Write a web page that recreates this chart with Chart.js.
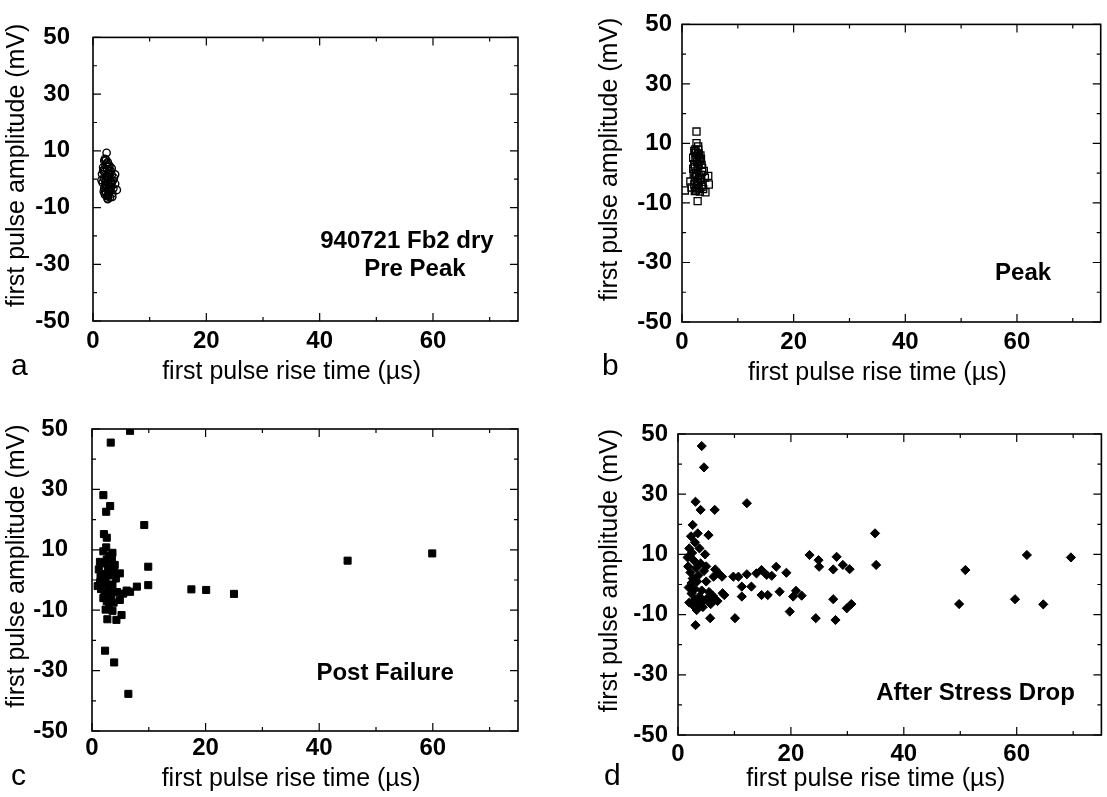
<!DOCTYPE html>
<html>
<head>
<meta charset="utf-8">
<script src="https://cdn.jsdelivr.net/npm/chart.js@4.4.1/dist/chart.umd.min.js"></script>
<style>
  html, body { margin: 0; padding: 0; background: #fff; }
  #wrap { position: relative; width: 1107px; height: 797px; overflow: hidden; background: #fff; }
  #wrap canvas { position: absolute; left: 0; top: 0; }
</style>
</head>
<body>
<div id="wrap">
  <canvas id="pa" width="1107" height="797"></canvas>
  <canvas id="pb" width="1107" height="797"></canvas>
  <canvas id="pc" width="1107" height="797"></canvas>
  <canvas id="pd" width="1107" height="797"></canvas>
</div>
<script>
// Tick labels shown on the axes (ticks every 10, labels every 20)
const labeledX = [0, 20, 40, 60];
const labeledY = [-50, -30, -10, 10, 30, 50];

// (a) Pre Peak: rise time (us) / amplitude (mV)
const preX = [2.4,2.1,2.6,2.2,1.8,2.9,2.5,3.1,2.0,1.6,2.7,3.3,2.3,1.9,2.8,3.5,3.9,2.2,1.7,2.6,3.0,2.4,2.0,3.2,2.7,1.5,2.9,3.6,4.2,3.9,2.3,2.8,2.1,3.4,2.5,1.9,3.0,2.6,2.2,2.7,3.3,2.4,2.0,2.9,3.1,2.5,1.8,2.6,
  2.3,2.7,2.0,3.0,2.4,3.3,2.2,2.9,2.6,3.4,2.1,3.7];
const preY = [9.3,7.2,6.0,5.1,4.2,4.8,3.5,3.0,2.6,1.8,2.2,1.5,1.0,0.4,0.8,-0.5,1.7,-0.8,-1.2,-1.5,-2.0,-2.4,-3.1,-2.8,-3.5,-0.3,-4.0,-3.2,-3.8,-1.6,-4.6,-5.2,-5.4,-5.0,-6.0,-4.3,-6.4,-6.8,-2.0,0.2,3.8,5.5,6.5,2.9,-1.0,1.2,3.0,-7.0,
  6.8,4.4,3.4,1.9,0.0,-1.2,-2.6,-3.6,-5.6,-6.2,-4.8,0.5];

// (b) Peak
const peakX = [2.6,0.5,2.8,4.8,4.2,2.6,4.7,3.8,1.7,2.2,2.5,2.9,3.3,2.0,2.4,2.7,3.1,3.5,2.3,2.8,3.0,3.6,2.1,2.6,3.2,2.4,2.9,3.4,2.2,2.7,3.0,3.7,2.5,2.0,3.3,2.8,4.1,1.5,3.9,2.3,
  2.4,3.0,2.6,3.4,2.2,2.9,3.6,2.5,3.1,2.3,2.8,3.5,2.6,3.2,2.9,2.4];
const peakY = [14.0,-5.8,-9.4,-3.8,-6.4,10.1,-0.9,-5.3,-4.8,7.5,6.8,7.9,6.0,5.2,4.5,3.8,5.0,2.8,2.0,1.2,3.2,0.5,-0.2,-1.0,-1.8,-2.6,-3.0,-2.2,-3.8,-4.4,-5.0,-4.0,-5.8,1.5,4.2,6.2,-1.5,-2.8,0.8,-6.0,
  7.0,6.6,5.6,4.8,3.0,2.4,1.8,0.2,-0.6,-1.4,-3.4,-4.6,-5.2,-6.2,9.0,8.0];

// (c) Post Failure
const failX = [6.7,3.3,2.0,3.2,2.5,9.2,2.1,2.6,4.9,9.9,9.9,7.9,6.1,4.9,17.5,20.1,25.0,2.7,4.3,5.2,2.3,3.9,6.4,45.0,59.9,
  1.2,1.5,2.0,2.5,3.0,3.5,2.2,1.8,2.8,3.8,4.2,2.4,3.0,1.6,2.2,3.4,2.6,3.0,2.4,3.8,4.4,3.6,2.0,2.8,3.2,1.4,4.0,2.6,3.6,6.7,5.5,
  1.0,3.3,2.0,3.6,1.4];
const failY = [49.4,45.5,28.1,24.5,22.6,18.2,15.2,14.0,2.2,4.4,-1.7,-2.2,-3.5,-6.6,-3.1,-3.3,-4.6,-13.0,-13.2,-11.6,-23.4,-27.3,-37.7,6.4,8.8,
  3.5,1.0,9.5,10.8,8.0,6.5,5.5,2.0,4.0,3.0,0.5,-1.0,-2.5,-3.0,-4.5,-5.5,-7.0,-8.5,-9.8,-7.5,-4.0,-1.5,0.0,1.5,-4.0,-0.8,5.0,6.8,9.0,-3.9,-4.5,
  -2.0,2.5,-6.0,-10.2,6.0];

// (d) After Stress Drop
const dropX = [4.2,4.6,3.1,4.0,6.5,12.2,2.6,5.4,3.1,5.7,10.1,19.8,24.4,23.3,24.9,25.0,28.1,27.5,29.2,30.4,34.9,35.1,50.9,61.8,69.6,49.8,59.7,64.7,20.9,20.4,21.9,27.5,27.9,29.9,30.7,
  6.3,7.2,7.8,9.8,10.7,12.2,13.9,14.8,15.7,16.6,17.4,19.2,
  8.2,11.3,11.3,13.0,14.8,15.9,18.0,7.9,6.6,
  2.0,2.5,3.0,3.5,2.8,1.8,2.2,3.2,4.0,4.6,5.0,2.6,3.4,1.9,2.4,3.0,3.8,4.5,5.2,5.8,6.5,2.7,3.3,2.0,4.2,3.6,2.3,4.8,3.8,1.7,4.4,5.5,6.2,7.0,3.0,2.4,3.7,5.0];
const dropY = [46.0,38.9,27.5,24.8,24.8,27.0,19.8,16.4,-13.5,-11.2,-11.2,-9.0,-11.2,9.8,8.1,5.9,9.2,5.0,6.5,5.1,17.0,6.5,4.8,9.8,9.0,-6.5,-4.9,-6.6,-2.1,-4.0,-3.7,-4.9,-11.8,-7.9,-6.5,
  2.6,3.7,2.6,2.6,2.6,3.4,3.7,4.8,3.2,2.9,5.9,3.9,
  -3.5,-0.7,-4.0,-0.7,-3.5,-3.5,-2.4,-2.9,5.0,
  12,10.5,14,17,8,6,4,5.5,7,4.5,6.0,2,1,-1,-3,-5,-4,-5.5,-4.5,-6.5,-5,-7,-8.5,-6,-2,3,16,10,12,9,-7.5,-2.5,-3.8,-5.5,-1.5,0.5,-6.0,1.0];

const FONT = '"Liberation Sans", Arial, Helvetica, sans-serif';
// Axis titles sit a little off-centre along their axes; the padding spaces nudge them.
const X_TITLE = 'first pulse rise time (\u00B5s)    ';
const Y_TITLE = '    first pulse amplitude (mV)';

// Layout of the four panels on the page
const panels = [
  { id: 'pa', xs: preX, ys: preY, pointStyle: 'circle', radius: 3.7, fill: 'rgba(0,0,0,0)', borderWidth: 1.4,
    area: { left: 93, right: 518, top: 16, bottom: 321 }, yBoxLeft: 0, yTickPad: 23, xTickPad: 6, xBoxBottom: 389,
    letter: { text: 'a', x: 11, y: 375 },
    notes: [ { text: '940721 Fb2 dry', x: 55.4, y: -24.4 }, { text: 'Pre Peak', x: 56.8, y: -34.3 } ] },
  { id: 'pb', xs: peakX, ys: peakY, pointStyle: 'rect', radius: 5, fill: 'rgba(0,0,0,0)', borderWidth: 1.3,
    area: { left: 682, right: 1104, top: 19, bottom: 322 }, yBoxLeft: 593, yTickPad: 10, xTickPad: 6, xBoxBottom: 390,
    letter: { text: 'b', x: 602, y: 375 },
    notes: [ { text: 'Peak', x: 61.1, y: -35.8 } ] },
  { id: 'pc', xs: failX, ys: failY, pointStyle: 'rect', radius: 5, fill: '#000', borderWidth: 1,
    area: { left: 92, right: 518, top: 429, bottom: 731 }, yBoxLeft: 0, yTickPad: 24, xTickPad: 3, xBoxBottom: 796,
    letter: { text: 'c', x: 11, y: 785 },
    notes: [ { text: 'Post Failure', x: 51.6, y: -33.1 } ] },
  { id: 'pd', xs: dropX, ys: dropY, pointStyle: 'rectRot', radius: 4.6, fill: '#000', borderWidth: 1,
    area: { left: 678, right: 1102, top: 434, bottom: 735 }, yBoxLeft: 593, yTickPad: 10, xTickPad: 5, xBoxBottom: 796,
    letter: { text: 'd', x: 604, y: 785 },
    notes: [ { text: 'After Stress Drop', x: 52.7, y: -38.4 } ] }
];

// Frame with inward ticks on all four sides, text notes and panel letter
function framePlugin(p) {
  return {
    id: 'frame_' + p.id,
    afterDraw(chart) {
      const { ctx, chartArea: a } = chart;
      const xs = chart.scales.x, ys = chart.scales.y;
      ctx.save();
      ctx.strokeStyle = '#000';
      ctx.lineWidth = 1.6;
      ctx.strokeRect(a.left, a.top, a.right - a.left, a.bottom - a.top);
      ctx.lineWidth = 1.2;
      ctx.beginPath();
      xs.ticks.forEach(t => {
        const px = xs.getPixelForValue(t.value);
        const len = labeledX.includes(t.value) ? 8 : 4;
        ctx.moveTo(px, a.bottom); ctx.lineTo(px, a.bottom - len);
        ctx.moveTo(px, a.top); ctx.lineTo(px, a.top + len);
      });
      ys.ticks.forEach(t => {
        const py = ys.getPixelForValue(t.value);
        const len = labeledY.includes(t.value) ? 8 : 4;
        ctx.moveTo(a.left, py); ctx.lineTo(a.left + len, py);
        ctx.moveTo(a.right, py); ctx.lineTo(a.right - len, py);
      });
      ctx.stroke();

      ctx.fillStyle = '#000';
      ctx.textBaseline = 'alphabetic';
      ctx.textAlign = 'center';
      ctx.font = 'bold 24px ' + FONT;
      p.notes.forEach(n => ctx.fillText(n.text, xs.getPixelForValue(n.x), ys.getPixelForValue(n.y)));

      ctx.textAlign = 'left';
      ctx.font = '30px ' + FONT;
      ctx.fillText(p.letter.text, p.letter.x, p.letter.y);
      ctx.restore();
    }
  };
}

panels.forEach(p => {
  const points = p.xs.map((x, i) => ({ x: x, y: p.ys[i] }));
  new Chart(document.getElementById(p.id), {
    type: 'scatter',
    data: {
      datasets: [{
        data: points,
        pointStyle: p.pointStyle,
        pointRadius: p.radius,
        pointHoverRadius: p.radius,
        backgroundColor: p.fill,
        borderColor: '#000',
        borderWidth: p.borderWidth
      }]
    },
    options: {
      responsive: false,
      animation: false,
      devicePixelRatio: 1,
      events: [],
      layout: {
        padding: {
          left: p.yBoxLeft,
          top: p.area.top,
          right: 1107 - p.area.right,
          bottom: 797 - p.xBoxBottom
        }
      },
      plugins: { legend: { display: false }, tooltip: { enabled: false } },
      scales: {
        x: {
          type: 'linear',
          min: 0, max: 75,
          grid: { display: false, drawTicks: false },
          border: { display: false },
          ticks: {
            stepSize: 10,
            includeBounds: false,
            autoSkip: false,
            maxRotation: 0,
            padding: p.xTickPad,
            color: '#000',
            font: { family: FONT, size: 24, weight: 'bold' },
            callback: v => labeledX.includes(v) ? String(v) : ''
          },
          title: {
            display: true,
            text: X_TITLE,
            color: '#000',
            font: { family: FONT, size: 25 },
            padding: { top: 0, bottom: 2 }
          },
          afterFit: s => { s.height = p.xBoxBottom - p.area.bottom; }
        },
        y: {
          type: 'linear',
          min: -50, max: 50,
          grid: { display: false, drawTicks: false },
          border: { display: false },
          ticks: {
            stepSize: 10,
            autoSkip: false,
            padding: p.yTickPad,
            color: '#000',
            font: { family: FONT, size: 24, weight: 'bold' },
            callback: v => labeledY.includes(v) ? String(v) : ''
          },
          title: {
            display: true,
            text: Y_TITLE,
            color: '#000',
            font: { family: FONT, size: 25 },
            padding: { top: 2, bottom: 0 }
          },
          afterFit: s => { s.width = p.area.left - p.yBoxLeft; }
        }
      }
    },
    plugins: [framePlugin(p)]
  });
});
</script>
</body>
</html>
